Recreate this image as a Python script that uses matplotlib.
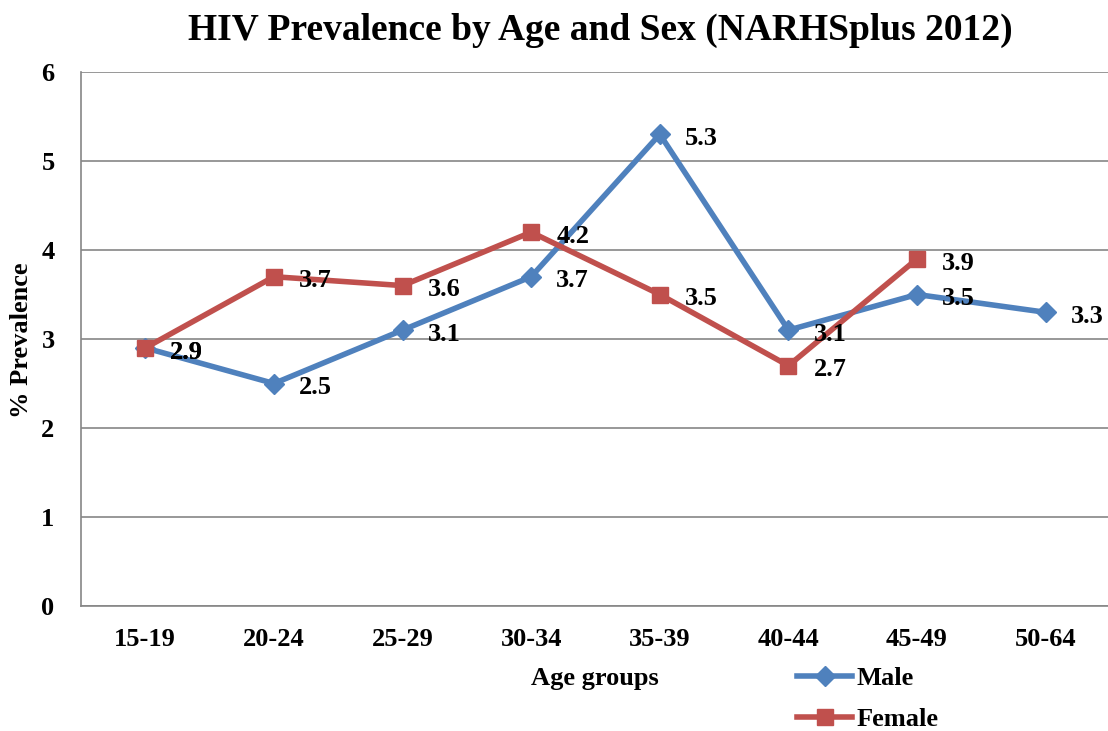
import numpy as np
import matplotlib
matplotlib.use("Agg")
import matplotlib.pyplot as plt

# data
age_groups = ["15-19", "20-24", "25-29", "30-34", "35-39", "40-44", "45-49", "50-64"]
male = [2.9, 2.5, 3.1, 3.7, 5.3, 3.1, 3.5, 3.3]
female = [2.9, 3.7, 3.6, 4.2, 3.5, 2.7, 3.9, np.nan]

plt.rcParams['font.family'] = ['Liberation Serif', 'DejaVu Serif']
plt.rcParams['font.weight'] = 'bold'

fig = plt.figure(figsize=(11.08, 7.31), dpi=100)
ax = fig.add_axes([81/1108, 1-606/731, 1029/1108, (606-72)/731])

x = np.arange(len(age_groups)) + 0.5
ax.plot(x, male, color='#4F81BD', lw=4, marker='D', ms=10, label='Male', zorder=3)
ax.plot(x, female, color='#C0504D', lw=4, marker='s', ms=12, label='Female', zorder=4)

# value labels
for xi, v in zip(x, male):
    ax.annotate(f"{v:.1f}", (xi, v), xytext=(18, -3), textcoords='offset points',
                ha='left', va='center', fontsize=19, fontweight='bold', zorder=5)
for xi, v in zip(x, female):
    if not np.isnan(v):
        ax.annotate(f"{v:.1f}", (xi, v), xytext=(18, -3), textcoords='offset points',
                    ha='left', va='center', fontsize=19, fontweight='bold', zorder=5)

ax.set_xlim(0, len(age_groups))
ax.set_ylim(0, 6)
ax.set_xticks(x)
ax.set_xticklabels(age_groups)
ax.set_yticks(range(7))
ax.tick_params(length=0, labelsize=19)
ax.tick_params(axis='x', pad=16)
ax.tick_params(axis='y', pad=19)
ax.grid(axis='y', color='#868686', lw=1.2)
ax.set_axisbelow(True)
for s in ['top', 'right']:
    ax.spines[s].set_visible(False)
for s in ['left', 'bottom']:
    ax.spines[s].set_color('#868686')
    ax.spines[s].set_linewidth(1.2)

fig.text(22/1108, 1-340/731, '% Prevalence', ha='center', va='center', rotation=90,
         fontsize=19, fontweight='bold')
fig.text(595/1108, 1-678/731, 'Age groups', ha='center', va='center',
         fontsize=19, fontweight='bold')
fig.suptitle('HIV Prevalence by Age and Sex (NARHSplus 2012)', x=600/1108, y=1-30/731,
             va='center', fontsize=27, fontweight='bold')

leg = fig.legend(loc='center left', bbox_to_anchor=(797/1108, 1-699/731), frameon=False,
                 handlelength=2.1, handletextpad=0.15, labelspacing=0.68,
                 borderpad=0, borderaxespad=0,
                 prop={'weight': 'bold', 'size': 19})

fig.savefig('out.png', dpi=100)
